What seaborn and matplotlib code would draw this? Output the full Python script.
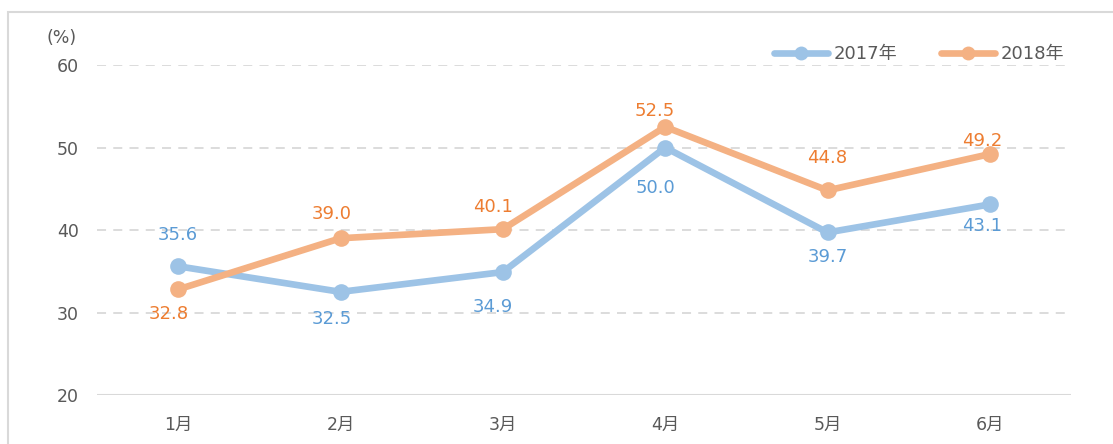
import numpy as np
import pandas as pd
import matplotlib
matplotlib.use('Agg')
import matplotlib.pyplot as plt
import seaborn as sns
from matplotlib.lines import Line2D
from matplotlib.patches import Rectangle

months = ['1月', '2月', '3月', '4月', '5月', '6月']
vals_2017 = [35.6, 32.5, 34.9, 50.0, 39.7, 43.1]
vals_2018 = [32.8, 39.0, 40.1, 52.5, 44.8, 49.2]
years = ['2017年', '2018年']

# label offsets from the point, in pixels (dx, dy; dy positive = upwards)
off_2017 = [(0, 31), (-9, -27), (-10, -35), (-10, -40), (0, -25), (-8, -22)]
off_2018 = [(-9, -25), (-9, 24), (-10, 22), (-10, 16), (0, 32), (-8, 13)]

line_colors = {'2017年': '#9DC3E6', '2018年': '#F4B183'}
text_colors = {'2017年': '#5B9BD5', '2018年': '#ED7D31'}

df = pd.DataFrame({
    'month': months * 2,
    'value': vals_2017 + vals_2018,
    'year': [years[0]] * 6 + [years[1]] * 6,
})

sns.set_theme(style='white')
plt.rcParams['font.family'] = ['DejaVu Sans', 'Noto Sans CJK JP']

fig = plt.figure(figsize=(11.13, 4.44), dpi=100)
ax = fig.add_axes([97 / 1113, 1 - 395 / 444, (1071 - 97) / 1113, (395 - 65) / 444])

# outer frame
fig.patches.append(Rectangle((8 / 1113, -0.05), 1.1, 1 - 12 / 444 + 0.05, transform=fig.transFigure,
                             fill=False, edgecolor='#D9D9D9', linewidth=1.5))

sns.lineplot(data=df, x='month', y='value', hue='year', palette=line_colors, sort=False,
             linewidth=4.8, marker='o', markersize=12, markeredgewidth=0, legend=False, ax=ax, zorder=3)

px = 0.72  # pixels -> points at 100 dpi
for yr, vals, offs in [(years[0], vals_2017, off_2017), (years[1], vals_2018, off_2018)]:
    for i, (v, (dx, dy)) in enumerate(zip(vals, offs)):
        ax.annotate(f'{v:.1f}', (i, v), xytext=(dx * px, dy * px), textcoords='offset points',
                    ha='center', va='center', fontsize=13, color=text_colors[yr], zorder=4)

ax.set_xlim(-0.5, 5.5)
ax.set_ylim(20, 60)
ax.set_yticks([20, 30, 40, 50, 60])
for y in [30, 40, 50, 60]:
    ax.axhline(y, color='#D9D9D9', linestyle=(0, (5, 4)), linewidth=1.3, zorder=1)
ax.axhline(20, color='#D9D9D9', linewidth=1.5, zorder=1)
for s in ax.spines.values():
    s.set_visible(False)
ax.tick_params(axis='both', length=0, labelsize=12.5, labelcolor='#595959')
ax.tick_params(axis='x', pad=15)
ax.tick_params(axis='y', pad=13)
ax.set_xlabel('')
ax.set_ylabel('')

fig.text(62 / 1113, 1 - 38 / 444, '(%)', ha='center', va='center', fontsize=12.5, color='#595959')

handles = [Line2D([], [], color=line_colors[y], linewidth=4.8, marker='o', markersize=10, markeredgewidth=0)
           for y in years]
ax.legend(handles, years, loc='center right', bbox_to_anchor=(1.0, 1 + 11 / 330), ncol=2, frameon=False,
          fontsize=13, handlelength=3.0, handletextpad=0.3, columnspacing=2.4, labelcolor='#595959',
          borderaxespad=0)

fig.savefig('out.png', dpi=100)
